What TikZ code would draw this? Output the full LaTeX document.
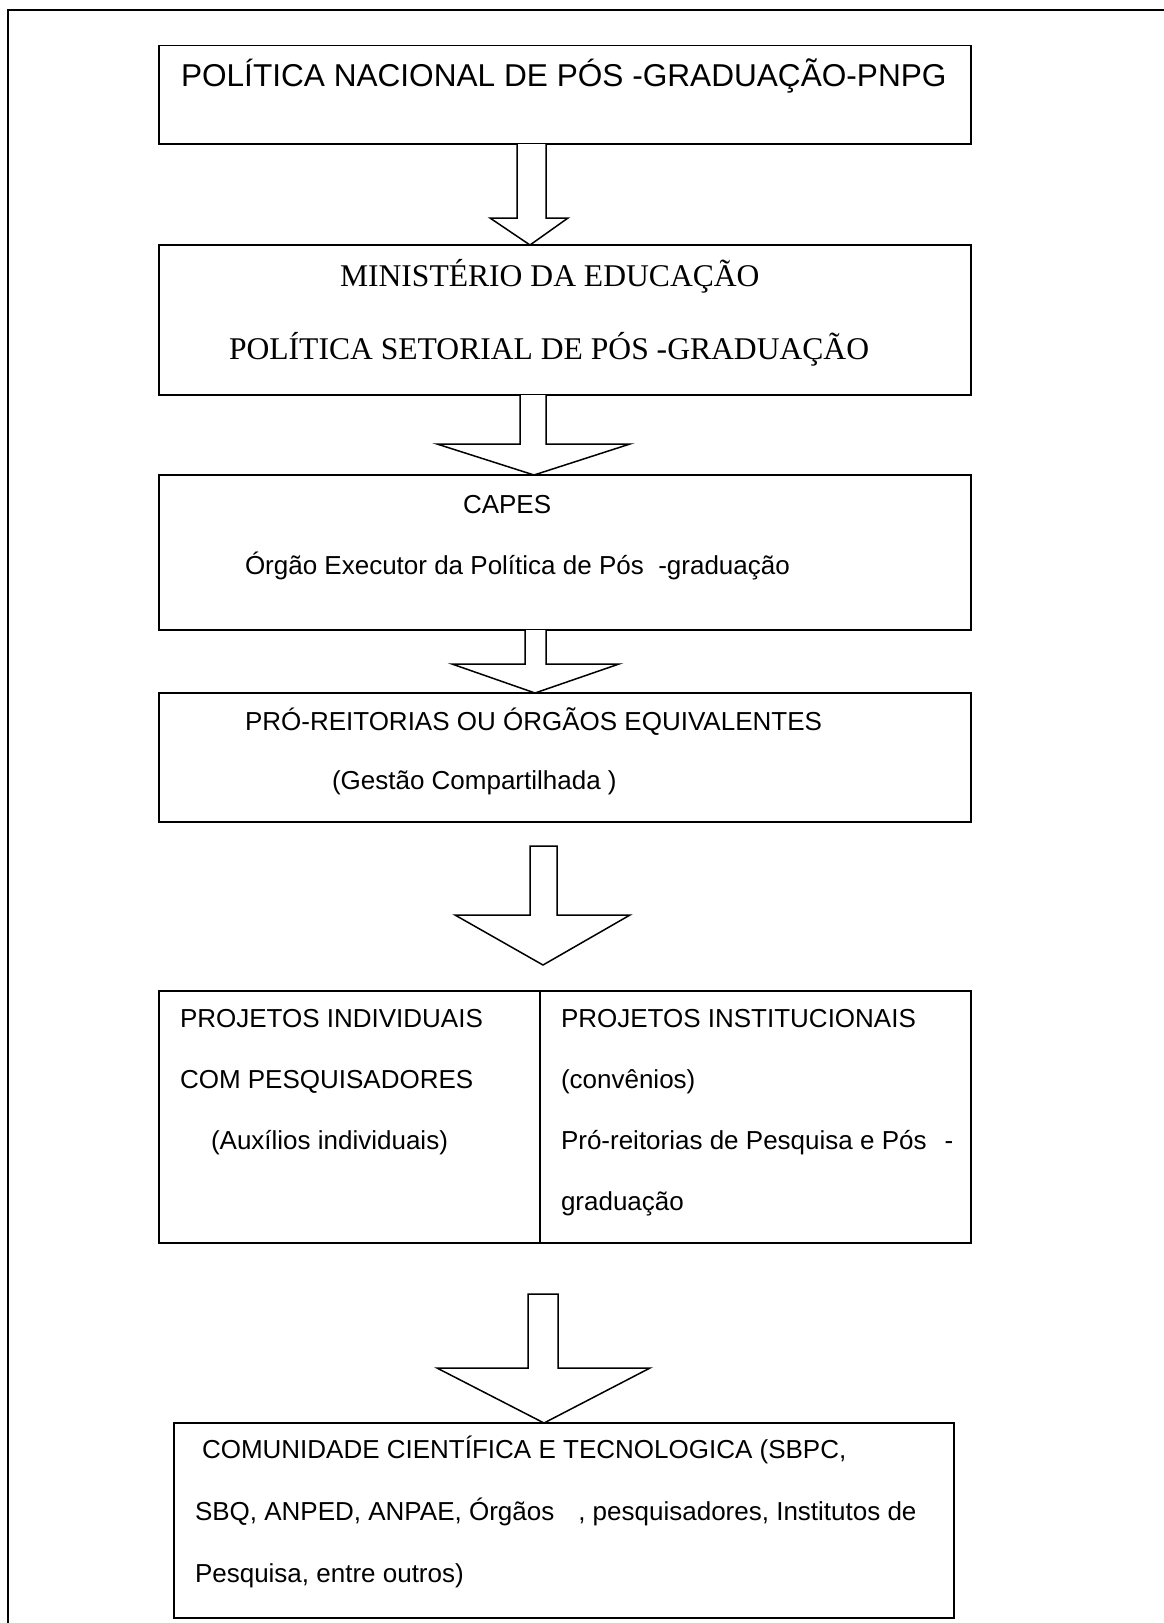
\documentclass[tikz,border=0pt]{standalone}
\usepackage{fontspec}
\setmainfont{Liberation Sans}
\newfontfamily\serifface{Liberation Serif}
\begin{document}
\begin{tikzpicture}[x=1pt,y=-1pt,
  box/.style={draw=black, line width=1.8pt, fill=none, anchor=north west, inner sep=0pt, outer sep=0pt},
  txt/.style={anchor=base west, inner sep=0pt, outer sep=0pt, font=\fontsize{26}{30}\selectfont},
  bigtxt/.style={anchor=base west, inner sep=0pt, outer sep=0pt, font=\fontsize{31.6}{38}\selectfont},
  sertxt/.style={anchor=base west, inner sep=0pt, outer sep=0pt, font=\serifface\fontsize{31.6}{38}\selectfont},
  barrow/.style={draw=black, line width=1.5pt, line join=miter, fill=white},
  frame/.style={draw=black, line width=2.2pt}
]
\useasboundingbox (0,0) rectangle (1164,1623);
% outer frame (top and left only)
\coordinate (ftl) at (8,10);
\coordinate (ftr) at (1164,10);
\coordinate (fbl) at (8,1623);
\draw[frame] (ftr) -- (ftl) -- (fbl);

% boxes
\node[box, minimum width=812pt, minimum height=98.5pt] (b1) at (159,45.5) {};
\node[box, minimum width=812pt, minimum height=150pt] (b2) at (159,245) {};
\node[box, minimum width=812pt, minimum height=155pt] (b3) at (159,475) {};
\node[box, minimum width=812pt, minimum height=129pt] (b4) at (159,693) {};
\node[box, minimum width=812pt, minimum height=252pt] (b5) at (159,991) {};
\node[box, minimum width=780pt, minimum height=195pt] (b6) at (174,1423) {};
\coordinate (divt) at (540,0 |- b5.north);
\coordinate (divb) at (540,0 |- b5.south);
\draw[line width=1.8pt] (divt) -- (divb);

% texts
\node[bigtxt] (t1) at (181,86) {POLÍTICA NACIONAL DE PÓS -GRADUAÇÃO-PNPG};
\node[sertxt] (t2a) at (340,286) {MINISTÉRIO DA EDUCAÇÃO};
\node[sertxt] (t2b) at (229,359) {POLÍTICA SETORIAL DE PÓS -GRADUAÇÃO};
\node[txt] (t3a) at (463,513) {CAPES};
\node[txt] (t3b) at (245,574) {Órgão Executor da Política de Pós~~-graduação};
\node[txt] (t4a) at (245,730) {PRÓ-REITORIAS OU ÓRGÃOS EQUIVALENTES};
\node[txt] (t4b) at (332,789) {(Gestão Compartilhada )};
\node[txt] (t5a) at (180,1027) {PROJETOS INDIVIDUAIS};
\node[txt] (t5b) at (180,1088) {COM PESQUISADORES};
\node[txt] (t5c) at (211,1149) {(Auxílios individuais)};
\node[txt] (t5d) at (561,1027) {PROJETOS INSTITUCIONAIS};
\node[txt] (t5e) at (561,1088) {(convênios)};
\node[txt] (t5f) at (561,1149) {Pró-reitorias de Pesquisa e Pós\hspace{18pt}-};
\node[txt] (t5g) at (561,1210) {graduação};
\node[txt] (t6a) at (202,1458) {COMUNIDADE CIENTÍFICA E TECNOLOGICA (SBPC,};
\node[txt] (t6b) at (195,1520) {SBQ, ANPED, ANPAE, Órgãos\hspace{24pt}, pesquisadores, Institutos de};
\node[txt] (t6c) at (195,1582) {Pesquisa, entre outros)};

% block arrows
\draw[barrow] (517,0 |- b1.south) -- (517,218) -- (490,218) -- (530,0 |- b2.north) -- (568,218) -- (546,218) -- (546,0 |- b1.south);
\draw[barrow] (520,0 |- b2.south) -- (520,444) -- (437,444) -- (534,0 |- b3.north) -- (630,444) -- (546,444) -- (546,0 |- b2.south);
\draw[barrow] (525,0 |- b3.south) -- (525,664) -- (452,664) -- (535,0 |- b4.north) -- (619,664) -- (546,664) -- (546,0 |- b3.south);
\draw[barrow] (530,846) -- (530,915) -- (455,915) -- (543,965) -- (630,915) -- (557,915) -- (557,846) -- cycle;
\draw[barrow] (528,1294) -- (528,1368) -- (437,1368) -- (544,0 |- b6.north) -- (650,1368) -- (558,1368) -- (558,1294) -- cycle;
\end{tikzpicture}
\end{document}
